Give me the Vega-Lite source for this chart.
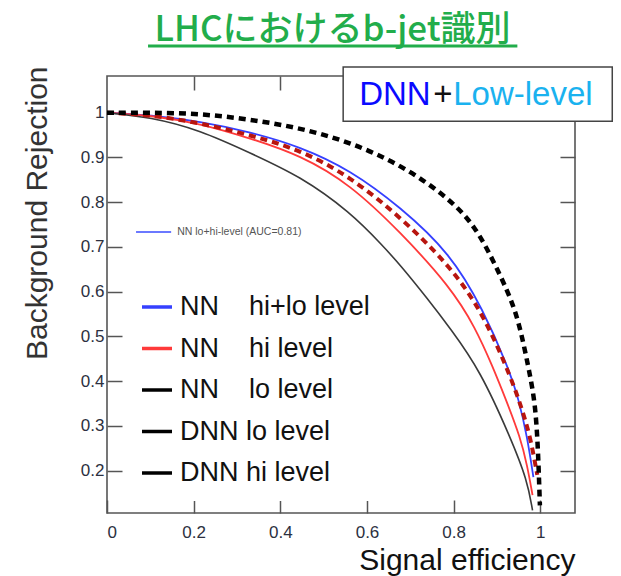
{
  "$schema": "https://vega.github.io/schema/vega-lite/v6.json",
  "width": 468,
  "height": 437,
  "autosize": {"type": "none"},
  "padding": {"left": 107, "top": 76, "right": 46, "bottom": 63},
  "background": "white",
  "config": {
    "view": {"stroke": "#555", "strokeWidth": 1.6},
    "font": "Liberation Sans",
    "axis": {"domain": false, "grid": false, "tickColor": "#555", "tickWidth": 1.5}
  },
  "datasets": {
    "nn": [
      {"series": "NN\u00a0\u00a0\u00a0 hi+lo level", "eff": 0, "rej": 1},
      {"series": "NN\u00a0\u00a0\u00a0 hi+lo level", "eff": 0.1, "rej": 0.995},
      {"series": "NN\u00a0\u00a0\u00a0 hi+lo level", "eff": 0.215, "rej": 0.98},
      {"series": "NN\u00a0\u00a0\u00a0 hi+lo level", "eff": 0.33, "rej": 0.957},
      {"series": "NN\u00a0\u00a0\u00a0 hi+lo level", "eff": 0.446, "rej": 0.924},
      {"series": "NN\u00a0\u00a0\u00a0 hi+lo level", "eff": 0.561, "rej": 0.872},
      {"series": "NN\u00a0\u00a0\u00a0 hi+lo level", "eff": 0.677, "rej": 0.789},
      {"series": "NN\u00a0\u00a0\u00a0 hi+lo level", "eff": 0.792, "rej": 0.686},
      {"series": "NN\u00a0\u00a0\u00a0 hi+lo level", "eff": 0.868, "rej": 0.56},
      {"series": "NN\u00a0\u00a0\u00a0 hi+lo level", "eff": 0.926, "rej": 0.43},
      {"series": "NN\u00a0\u00a0\u00a0 hi+lo level", "eff": 0.95, "rej": 0.36},
      {"series": "NN\u00a0\u00a0\u00a0 hi+lo level", "eff": 0.97, "rej": 0.274},
      {"series": "NN\u00a0\u00a0\u00a0 hi+lo level", "eff": 0.984, "rej": 0.185},
      {"series": "NN\u00a0\u00a0\u00a0 hi level", "eff": 0, "rej": 1},
      {"series": "NN\u00a0\u00a0\u00a0 hi level", "eff": 0.1, "rej": 0.994},
      {"series": "NN\u00a0\u00a0\u00a0 hi level", "eff": 0.215, "rej": 0.976},
      {"series": "NN\u00a0\u00a0\u00a0 hi level", "eff": 0.33, "rej": 0.943},
      {"series": "NN\u00a0\u00a0\u00a0 hi level", "eff": 0.446, "rej": 0.905},
      {"series": "NN\u00a0\u00a0\u00a0 hi level", "eff": 0.561, "rej": 0.84},
      {"series": "NN\u00a0\u00a0\u00a0 hi level", "eff": 0.677, "rej": 0.733},
      {"series": "NN\u00a0\u00a0\u00a0 hi level", "eff": 0.792, "rej": 0.611},
      {"series": "NN\u00a0\u00a0\u00a0 hi level", "eff": 0.85, "rej": 0.52},
      {"series": "NN\u00a0\u00a0\u00a0 hi level", "eff": 0.891, "rej": 0.43},
      {"series": "NN\u00a0\u00a0\u00a0 hi level", "eff": 0.92, "rej": 0.36},
      {"series": "NN\u00a0\u00a0\u00a0 hi level", "eff": 0.954, "rej": 0.274},
      {"series": "NN\u00a0\u00a0\u00a0 hi level", "eff": 0.97, "rej": 0.21},
      {"series": "NN\u00a0\u00a0\u00a0 hi level", "eff": 0.982, "rej": 0.145}
    ],
    "nnlo": [
      {"series": "NN\u00a0\u00a0\u00a0 lo level", "eff": 0, "rej": 1},
      {"series": "NN\u00a0\u00a0\u00a0 lo level", "eff": 0.1, "rej": 0.99},
      {"series": "NN\u00a0\u00a0\u00a0 lo level", "eff": 0.215, "rej": 0.961},
      {"series": "NN\u00a0\u00a0\u00a0 lo level", "eff": 0.33, "rej": 0.91},
      {"series": "NN\u00a0\u00a0\u00a0 lo level", "eff": 0.446, "rej": 0.858},
      {"series": "NN\u00a0\u00a0\u00a0 lo level", "eff": 0.561, "rej": 0.778},
      {"series": "NN\u00a0\u00a0\u00a0 lo level", "eff": 0.637, "rej": 0.702},
      {"series": "NN\u00a0\u00a0\u00a0 lo level", "eff": 0.677, "rej": 0.659},
      {"series": "NN\u00a0\u00a0\u00a0 lo level", "eff": 0.739, "rej": 0.585},
      {"series": "NN\u00a0\u00a0\u00a0 lo level", "eff": 0.792, "rej": 0.518},
      {"series": "NN\u00a0\u00a0\u00a0 lo level", "eff": 0.861, "rej": 0.424},
      {"series": "NN\u00a0\u00a0\u00a0 lo level", "eff": 0.931, "rej": 0.274},
      {"series": "NN\u00a0\u00a0\u00a0 lo level", "eff": 0.97, "rej": 0.178},
      {"series": "NN\u00a0\u00a0\u00a0 lo level", "eff": 0.982, "rej": 0.111}
    ],
    "dnnlo": [
      {"series": "DNN lo level", "eff": 0, "rej": 1},
      {"series": "DNN lo level", "eff": 0.1, "rej": 0.995},
      {"series": "DNN lo level", "eff": 0.215, "rej": 0.977},
      {"series": "DNN lo level", "eff": 0.33, "rej": 0.95},
      {"series": "DNN lo level", "eff": 0.446, "rej": 0.917},
      {"series": "DNN lo level", "eff": 0.561, "rej": 0.857},
      {"series": "DNN lo level", "eff": 0.677, "rej": 0.767},
      {"series": "DNN lo level", "eff": 0.792, "rej": 0.657},
      {"series": "DNN lo level", "eff": 0.868, "rej": 0.552},
      {"series": "DNN lo level", "eff": 0.935, "rej": 0.402},
      {"series": "DNN lo level", "eff": 0.96, "rej": 0.33},
      {"series": "DNN lo level", "eff": 0.977, "rej": 0.274},
      {"series": "DNN lo level", "eff": 0.993, "rej": 0.19}
    ],
    "dnnhi": [
      {"series": "DNN hi level", "eff": 0, "rej": 1},
      {"series": "DNN hi level", "eff": 0.1, "rej": 1.0},
      {"series": "DNN hi level", "eff": 0.215, "rej": 0.998},
      {"series": "DNN hi level", "eff": 0.33, "rej": 0.985},
      {"series": "DNN hi level", "eff": 0.446, "rej": 0.966},
      {"series": "DNN hi level", "eff": 0.561, "rej": 0.934},
      {"series": "DNN hi level", "eff": 0.68, "rej": 0.883},
      {"series": "DNN hi level", "eff": 0.792, "rej": 0.807},
      {"series": "DNN hi level", "eff": 0.85, "rej": 0.745},
      {"series": "DNN hi level", "eff": 0.891, "rej": 0.67},
      {"series": "DNN hi level", "eff": 0.925, "rej": 0.6},
      {"series": "DNN hi level", "eff": 0.947, "rej": 0.543},
      {"series": "DNN hi level", "eff": 0.962, "rej": 0.48},
      {"series": "DNN hi level", "eff": 0.974, "rej": 0.424},
      {"series": "DNN hi level", "eff": 0.988, "rej": 0.351},
      {"series": "DNN hi level", "eff": 0.994, "rej": 0.26},
      {"series": "DNN hi level", "eff": 0.997, "rej": 0.18},
      {"series": "DNN hi level", "eff": 0.999, "rej": 0.122}
    ]
  },
  "resolve": {"axis": {"x": "independent", "y": "independent"}},
  "layer": [
    {
      "data": {"name": "nn"},
      "mark": {"type": "line", "strokeWidth": 1.8, "interpolate": "basis"},
      "encoding": {
        "x": {
          "field": "eff", "type": "quantitative",
          "scale": {"domain": [0, 1.08], "nice": false, "zero": false},
          "axis": {
            "orient": "bottom", "values": [0, 0.2, 0.4, 0.6, 0.8, 1], "format": ".1~f",
            "tickSize": -13, "labelPadding": 24, "labelFontSize": 17, "labelColor": "#2c3040",
            "title": "Signal efficiency", "titleAnchor": "end", "titleFontSize": 30,
            "titleFontWeight": "normal", "titleColor": "#111", "titlePadding": 5
          }
        },
        "y": {
          "field": "rej", "type": "quantitative",
          "scale": {"domain": [0.105, 1.082], "nice": false, "zero": false},
          "axis": {
            "orient": "left", "values": [0.2, 0.3, 0.4, 0.5, 0.6, 0.7, 0.8, 0.9, 1], "format": ".1~f",
            "tickSize": -15, "labelPadding": 18, "labelFontSize": 17, "labelColor": "#2c3040",
            "title": "Background Rejection", "titleAnchor": "end", "titleY": -10, "titleFontSize": 30,
            "titleFontWeight": "normal", "titleColor": "#333", "titlePadding": 28
          }
        },
        "color": {
          "field": "series", "type": "nominal",
          "scale": {
            "domain": ["NN\u00a0\u00a0\u00a0 hi+lo level", "NN\u00a0\u00a0\u00a0 hi level", "NN\u00a0\u00a0\u00a0 lo level", "DNN lo level", "DNN hi level"],
            "range": ["#3540ff", "#ff3a3a", "#000000", "#000000", "#000000"]
          },
          "legend": {
            "orient": "none", "legendX": 18, "legendY": 199, "title": null,
            "symbolType": "stroke", "symbolSize": 900, "symbolStrokeWidth": 3.5,
            "labelFontSize": 27, "labelFont": "Liberation Sans", "labelColor": "#111",
            "labelOffset": 6, "rowPadding": 11.5, "padding": 15, "fillColor": "white",
            "labelLimit": 400
          }
        }
      }
    },
    {
      "data": {"name": "nnlo"},
      "mark": {"type": "line", "strokeWidth": 1.6, "interpolate": "basis", "color": "#3a3a3a"},
      "encoding": {
        "x": {"field": "eff", "type": "quantitative", "axis": null},
        "y": {"field": "rej", "type": "quantitative", "axis": null}
      }
    },
    {
      "data": {"name": "dnnlo"},
      "mark": {"type": "line", "strokeWidth": 4, "strokeDash": [7, 5], "interpolate": "basis", "color": "#b8150f"},
      "encoding": {
        "x": {"field": "eff", "type": "quantitative", "axis": null},
        "y": {"field": "rej", "type": "quantitative", "axis": null}
      }
    },
    {
      "data": {"name": "dnnhi"},
      "mark": {"type": "line", "strokeWidth": 4.5, "strokeDash": [7, 5], "interpolate": "basis", "color": "#000000"},
      "encoding": {
        "x": {
          "field": "eff", "type": "quantitative",
          "axis": {"orient": "top", "values": [0.2, 0.4, 0.6, 0.8], "labels": false, "title": null, "tickSize": -14}
        },
        "y": {
          "field": "rej", "type": "quantitative",
          "axis": {"orient": "right", "values": [0.2, 0.3, 0.4, 0.5, 0.6, 0.7, 0.8, 0.9], "labels": false, "title": null, "tickSize": -15}
        }
      }
    },
    {
      "data": {"values": [{}]},
      "mark": {"type": "rule", "color": "#3a4cff", "strokeWidth": 1.5},
      "encoding": {
        "x": {"datum": 0.067, "type": "quantitative", "axis": null},
        "x2": {"datum": 0.148},
        "y": {"datum": 0.733, "type": "quantitative", "axis": null}
      }
    },
    {
      "data": {"values": [{}]},
      "mark": {"type": "text", "text": "NN lo+hi-level (AUC=0.81)", "fontSize": 10.5, "color": "#555", "align": "left", "baseline": "middle"},
      "encoding": {
        "x": {"datum": 0.162, "type": "quantitative", "axis": null},
        "y": {"datum": 0.733, "type": "quantitative", "axis": null}
      }
    },
    {
      "data": {"values": [{}]},
      "mark": {"type": "rect", "fill": "white", "stroke": "#444", "strokeWidth": 1.5},
      "encoding": {
        "x": {"datum": 0.545, "type": "quantitative", "axis": null},
        "x2": {"datum": 1.166},
        "y": {"datum": 1.102, "type": "quantitative", "axis": null},
        "y2": {"datum": 0.981}
      }
    },
    {
      "data": {"values": [{}]},
      "mark": {"type": "text", "text": "DNN", "fontSize": 33, "font": "Liberation Sans", "color": "#0a0aff", "align": "left", "baseline": "alphabetic"},
      "encoding": {
        "x": {"datum": 0.582, "type": "quantitative", "axis": null},
        "y": {"datum": 1.017, "type": "quantitative", "axis": null}
      }
    },
    {
      "data": {"values": [{}]},
      "mark": {"type": "text", "text": "+", "fontSize": 33, "font": "Liberation Sans", "color": "#111", "align": "left", "baseline": "alphabetic"},
      "encoding": {
        "x": {"datum": 0.753, "type": "quantitative", "axis": null},
        "y": {"datum": 1.017, "type": "quantitative", "axis": null}
      }
    },
    {
      "data": {"values": [{}]},
      "mark": {"type": "text", "text": "Low-level", "fontSize": 33, "font": "Liberation Sans", "color": "#1ab2ef", "align": "left", "baseline": "alphabetic"},
      "encoding": {
        "x": {"datum": 0.799, "type": "quantitative", "axis": null},
        "y": {"datum": 1.017, "type": "quantitative", "axis": null}
      }
    },
    {
      "data": {"values": [{}]},
      "mark": {"type": "text", "text": "LHCにおけるb-jet識別", "font": "Noto Sans CJK JP", "fontSize": 35, "fontWeight": 500, "color": "#22ad4b", "align": "center", "baseline": "alphabetic"},
      "encoding": {
        "x": {"datum": 0.5204, "type": "quantitative", "axis": null},
        "y": {"datum": 1.1592, "type": "quantitative", "axis": null}
      }
    },
    {
      "data": {"values": [{}]},
      "mark": {"type": "rule", "color": "#22ad4b", "strokeWidth": 3},
      "encoding": {
        "x": {"datum": 0.0947, "type": "quantitative", "axis": null},
        "x2": {"datum": 0.947},
        "y": {"datum": 1.1493, "type": "quantitative", "axis": null}
      }
    }
  ]
}
